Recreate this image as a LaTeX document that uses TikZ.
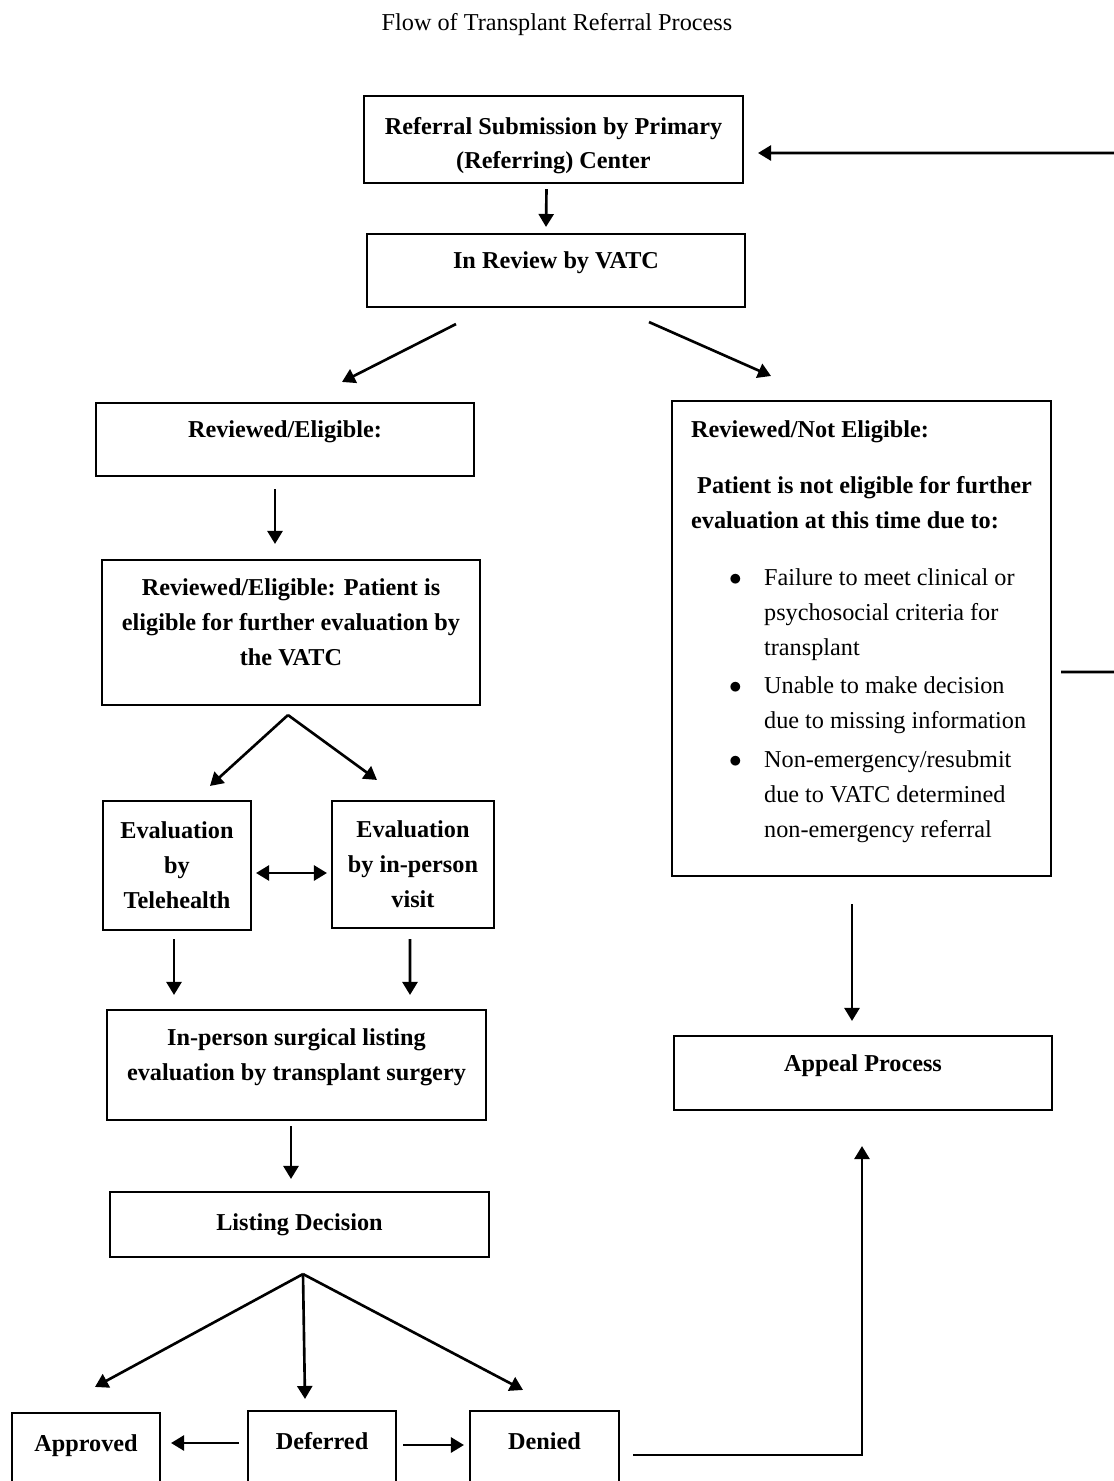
\documentclass[tikz,border=0pt]{standalone}
\usepackage{fontspec}
\setmainfont{Liberation Serif}
\usetikzlibrary{arrows.meta,calc}

\newcommand{\lifted}[1]{\raisebox{0.18cm}[\height][\depth]{\begin{tabular}{@{}c@{}}#1\end{tabular}}}
\newcommand{\lowered}[1]{\raisebox{-0.1cm}[\height][\depth]{\begin{tabular}{@{}c@{}}#1\end{tabular}}}
\newcommand{\liftedleft}[1]{\raisebox{0.16cm}[\height][\depth]{\begin{tabular}{@{}l@{}}#1\end{tabular}}}
\newcommand{\bulletline}{\mdseries\hspace*{0.76cm}\makebox[0.7cm][l]{$\bullet$}}
\newcommand{\contline}{\mdseries\hspace*{1.46cm}}

\begin{document}
\begin{tikzpicture}
  [x=0.02cm,y=-0.02cm,>={Triangle[length=0.26cm,width=0.3cm]},
   every node/.style={font=\fontsize{13.8}{19.9}\selectfont}, % coordinates are in pixels of the page, y runs downwards
   box/.style={draw,line width=1.2pt,align=center,inner sep=2pt,font=\fontsize{13.8}{19.9}\selectfont\bfseries},
   arr/.style={->,line width=1.5pt}]

    \clip (0,0) rectangle (1114,1481);

    \node (title) at (557,25) {Flow of Transplant Referral Process};

    \node[box,minimum width=7.58cm,minimum height=1.74cm] (ref) at (553.5,139.5) {\lowered{Referral Submission by Primary\\(Referring) Center}};
    \node[box,minimum width=7.56cm,minimum height=1.46cm] (review) at (556,270.5) {\lifted{In Review by VATC}};
    \node[box,minimum width=7.56cm,minimum height=1.46cm] (elig) at (285,439.5) {\lifted{Reviewed/Eligible:}};
    \node[box,minimum width=7.56cm,minimum height=2.90cm] (eligfull) at (291,632.5) {\lifted{Reviewed/Eligible: Patient is\\eligible for further evaluation by\\the VATC}};
    \node[box,minimum width=2.96cm,minimum height=2.58cm] (tele) at (177,865.5) {Evaluation\\by\\Telehealth};
    \node[box,minimum width=3.24cm,minimum height=2.54cm] (inperson) at (413,864.5) {Evaluation\\by in-person\\visit};
    \node[box,minimum width=7.58cm,minimum height=2.20cm] (surgery) at (296.5,1065) {\lifted{In-person surgical listing\\evaluation by transplant surgery}};
    \node[box,minimum width=7.58cm,minimum height=1.30cm] (listing) at (299.5,1224.5) {Listing Decision};
    \node[box,minimum width=2.96cm,minimum height=1.60cm] (approved) at (86,1453) {\lifted{Approved}};
    \node[box,minimum width=2.96cm,minimum height=1.60cm] (deferred) at (322,1451) {\lifted{Deferred}};
    \node[box,minimum width=2.98cm,minimum height=1.60cm] (denied) at (544.5,1451) {\lifted{Denied}};

    \node[box,minimum width=7.58cm,minimum height=9.50cm] (noelig) at (861.5,638.5)
      {\liftedleft{Reviewed/Not Eligible:\\[0.42cm]
       \ Patient is not eligible for further\\
       evaluation at this time due to:\\[0.44cm]
       \bulletline Failure to meet clinical or\\
       \contline psychosocial criteria for\\
       \contline transplant\\[0.07cm]
       \bulletline Unable to make decision\\
       \contline due to missing information\\[0.07cm]
       \bulletline Non-emergency/resubmit\\
       \contline due to VATC determined\\
       \contline non-emergency referral}};
    \node[box,minimum width=7.56cm,minimum height=1.48cm] (appeal) at (863,1073) {\lifted{Appeal Process}};

    \coordinate (rimA) at (1130,153);
    \coordinate (rimB) at (1130,672);

    \draw[arr] ($(ref.south)+(-7,5)$) -- ($(review.north)+(-10,-6)$);
    \draw[arr] ($(review.south)+(-100,16)$) -- ($(elig.north)+(57,-20)$);
    \draw[arr] ($(review.south)+(93,14)$) -- ($(noelig.north)+(-90.5,-24)$);
    \draw[arr] ($(elig.south)+(-10,12)$) -- ($(eligfull.north)+(-16,-15)$);
    \draw[arr] ($(eligfull.south)+(-3,9)$) -- ($(tele.north)+(33,-14)$);
    \draw[arr] ($(eligfull.south)+(-3,9)$) -- ($(inperson.north)+(-36,-20)$);
    \draw[<->,line width=1.5pt] ($(tele.east)+(4,7.5)$) -- ($(inperson.west)+(-4,8.5)$);
    \draw[arr] ($(tele.south)+(-3,8)$) -- ($(surgery.north)+(-122.5,-14)$);
    \draw[arr] ($(inperson.south)+(-3,10)$) -- ($(surgery.north)+(113.5,-14)$);
    \draw[arr] ($(surgery.south)+(-5.5,5)$) -- ($(listing.north)+(-8.5,-12)$);
    \draw[arr] ($(listing.south)+(3.5,16)$) -- ($(approved.north)+(9,-25)$);
    \draw[arr] ($(listing.south)+(3.5,16)$) -- ($(deferred.north)+(-17,-11)$);
    \draw[arr] ($(listing.south)+(3.5,16)$) -- ($(denied.north)+(-21.5,-20)$);
    \draw[arr] ($(deferred.west)+(-8,-8)$) -- ($(approved.east)+(10,-10)$);
    \draw[arr] ($(deferred.east)+(6,-6)$) -- ($(denied.west)+(-5,-6)$);
    \draw[arr] ($(denied.east)+(13,4)$) -| ($(appeal.south)+(-1,35)$);
    \draw[arr] ($(noelig.south)+(-9.5,27)$) -- ($(appeal.north)+(-11,-14)$);
    \draw[arr] (rimA) -- ($(ref.east)+(14,13.5)$);
    \draw[line width=1.5pt] ($(noelig.east)+(9,33.5)$) -- (rimB);

\end{tikzpicture}
\end{document}
